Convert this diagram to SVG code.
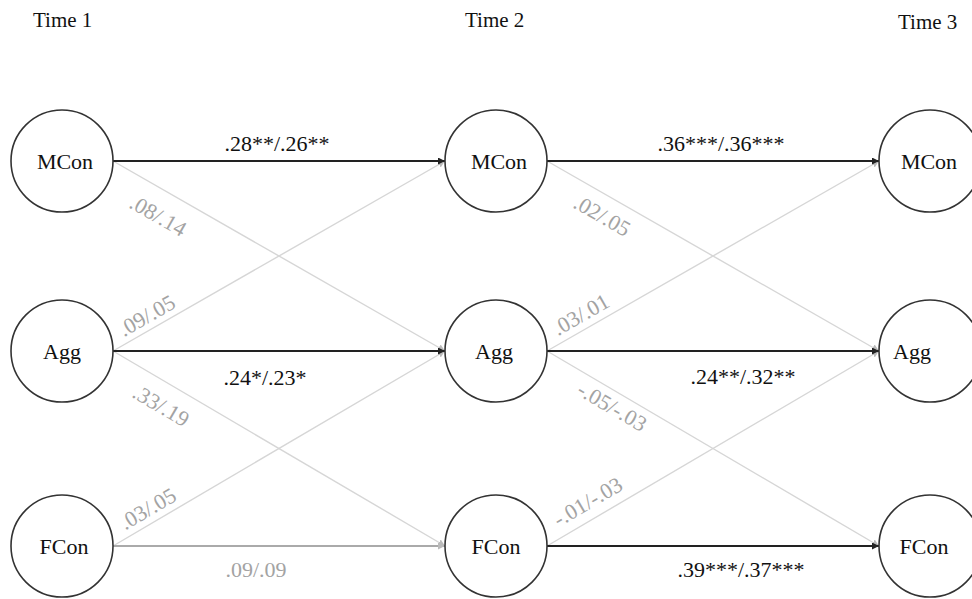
<svg xmlns="http://www.w3.org/2000/svg" width="972" height="599" viewBox="0 0 972 599">
  <style>
    text { font-family: "Liberation Serif", "Times New Roman", serif; }
    .title { font-size: 21px; fill: #111; }
    .node circle { fill: #fff; stroke: #333; stroke-width: 1.6; }
    .node text { font-size: 22px; fill: #111; text-anchor: middle; }
    .strong { stroke: #222; stroke-width: 2.2; fill: none; }
    .mid { stroke: #aaa; stroke-width: 2; fill: none; }
    .faint { stroke: #d6d6d6; stroke-width: 1.4; fill: none; }
    .lbl { font-size: 22px; text-anchor: middle; }
    .lbl.dark { fill: #111; }
    .lbl.grey { fill: #a3a3a3; }
  </style>
  <defs>
    <marker id="arrowDark" markerWidth="8" markerHeight="8" refX="7" refY="3.5" orient="auto" markerUnits="userSpaceOnUse">
      <path d="M0,0 L7,3.5 L0,7 z" fill="#222"/>
    </marker>
    <marker id="arrowGrey" markerWidth="8" markerHeight="8" refX="7" refY="3.5" orient="auto" markerUnits="userSpaceOnUse">
      <path d="M0,0 L7,3.5 L0,7 z" fill="#bbb"/>
    </marker>
  </defs>

  <rect width="972" height="599" fill="#fff"/>

  <!-- wave headings -->
  <text class="title" x="33" y="27">Time 1</text>
  <text class="title" x="465" y="27">Time 2</text>
  <text class="title" x="898" y="29">Time 3</text>

  <!-- paths between waves -->
  <g id="connectors">
    <!-- cross-lagged paths -->
    <line class="faint" x1="113" y1="161" x2="445" y2="351" marker-end="url(#arrowGrey)"/>
    <line class="faint" x1="113" y1="351" x2="445" y2="161" marker-end="url(#arrowGrey)"/>
    <line class="faint" x1="113" y1="351" x2="445" y2="546" marker-end="url(#arrowGrey)"/>
    <line class="faint" x1="113" y1="546" x2="445" y2="351" marker-end="url(#arrowGrey)"/>
    <line class="faint" x1="547" y1="161" x2="879" y2="351" marker-end="url(#arrowGrey)"/>
    <line class="faint" x1="547" y1="351" x2="879" y2="161" marker-end="url(#arrowGrey)"/>
    <line class="faint" x1="547" y1="351" x2="879" y2="546" marker-end="url(#arrowGrey)"/>
    <line class="faint" x1="547" y1="546" x2="879" y2="351" marker-end="url(#arrowGrey)"/>
    <!-- autoregressive paths -->
    <line class="strong" x1="113" y1="161" x2="445" y2="161" marker-end="url(#arrowDark)"/>
    <line class="strong" x1="113" y1="351" x2="445" y2="351" marker-end="url(#arrowDark)"/>
    <line class="mid" x1="113" y1="546" x2="445" y2="546" marker-end="url(#arrowGrey)"/>
    <line class="strong" x1="547" y1="161" x2="879" y2="161" marker-end="url(#arrowDark)"/>
    <line class="strong" x1="547" y1="351" x2="879" y2="351" marker-end="url(#arrowDark)"/>
    <line class="strong" x1="547" y1="546" x2="879" y2="546" marker-end="url(#arrowDark)"/>

    <!-- coefficients -->
    <text class="lbl dark" x="277" y="151">.28**/.26**</text>
    <text class="lbl dark" x="721" y="151">.36***/.36***</text>
    <text class="lbl dark" x="265" y="385">.24*/.23*</text>
    <text class="lbl dark" x="743" y="384">.24**/.32**</text>
    <text class="lbl grey" x="256" y="577">.09/.09</text>
    <text class="lbl dark" x="741" y="577">.39***/.37***</text>

    <text class="lbl grey" transform="translate(158,216) rotate(29.8)" y="7">.08/.14</text>
    <text class="lbl grey" transform="translate(147,316) rotate(-29.8)" y="7">.09/.05</text>
    <text class="lbl grey" transform="translate(161,406) rotate(30.4)" y="7">.33/.19</text>
    <text class="lbl grey" transform="translate(148,509) rotate(-30.4)" y="7">.03/.05</text>
    <text class="lbl grey" transform="translate(602,216) rotate(29.8)" y="7">.02/.05</text>
    <text class="lbl grey" transform="translate(581,315) rotate(-29.8)" y="7">.03/.01</text>
    <text class="lbl grey" transform="translate(612,407) rotate(30.4)" y="7">-.05/-.03</text>
    <text class="lbl grey" transform="translate(588,502) rotate(-30.4)" y="7">-.01/-.03</text>
  </g>

  <!-- latent constructs, one per wave -->
  <g id="mcon1" class="node"><circle cx="62" cy="161" r="51"/><text x="65" y="169">MCon</text></g>
  <g id="agg1" class="node"><circle cx="62" cy="351" r="51"/><text x="62" y="359">Agg</text></g>
  <g id="fcon1" class="node"><circle cx="62" cy="546" r="51"/><text x="64" y="554">FCon</text></g>

  <g id="mcon2" class="node"><circle cx="496" cy="161" r="51"/><text x="499" y="169">MCon</text></g>
  <g id="agg2" class="node"><circle cx="496" cy="351" r="51"/><text x="494" y="359">Agg</text></g>
  <g id="fcon2" class="node"><circle cx="496" cy="546" r="51"/><text x="496" y="554">FCon</text></g>

  <g id="mcon3" class="node"><circle cx="930" cy="161" r="51"/><text x="929" y="169">MCon</text></g>
  <g id="agg3" class="node"><circle cx="930" cy="351" r="51"/><text x="912" y="359">Agg</text></g>
  <g id="fcon3" class="node"><circle cx="930" cy="546" r="51"/><text x="924" y="554">FCon</text></g>
</svg>
